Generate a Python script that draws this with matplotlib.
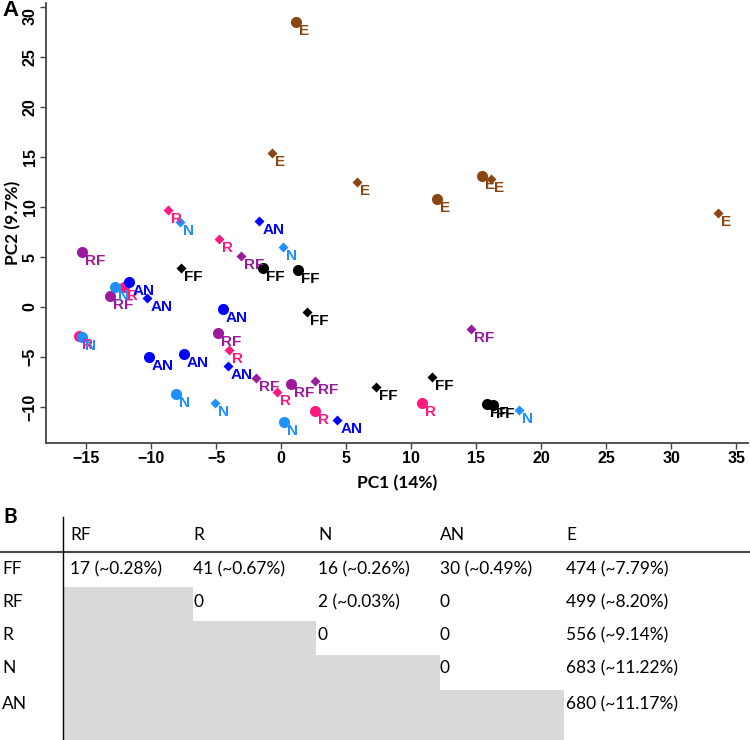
import matplotlib
matplotlib.use('Agg')
import matplotlib.pyplot as plt
from matplotlib.patches import Rectangle

# panel A: PCA scores, one entry per sample
groups = ['FF', 'RF', 'R', 'N', 'AN', 'E']
colors = {'FF': '#000000', 'RF': '#9c1a9c', 'R': '#ff1a80', 'N': '#1e90ff',
          'AN': '#0000ff', 'E': '#8b4513'}

pt_group = ['FF', 'FF', 'FF', 'FF', 'FF', 'FF', 'FF', 'FF',
            'RF', 'RF', 'RF', 'RF', 'RF', 'RF', 'RF', 'RF',
            'R', 'R', 'R', 'R', 'R', 'R', 'R', 'R',
            'N', 'N', 'N', 'N', 'N', 'N', 'N', 'N',
            'AN', 'AN', 'AN', 'AN', 'AN', 'AN', 'AN', 'AN',
            'E', 'E', 'E', 'E', 'E', 'E', 'E']
pt_shape = ['o', 'o', 'o', 'o', 'D', 'D', 'D', 'D',
            'o', 'o', 'o', 'o', 'D', 'D', 'D', 'D',
            'o', 'o', 'o', 'o', 'D', 'D', 'D', 'D',
            'o', 'o', 'o', 'o', 'D', 'D', 'D', 'D',
            'o', 'o', 'o', 'o', 'D', 'D', 'D', 'D',
            'o', 'o', 'o', 'D', 'D', 'D', 'D']
pc1 = [-1.4, 1.3, 15.8, 16.3, -7.7, 2.0, 7.3, 11.6,
       -15.3, -13.2, -4.9, 0.75, -3.1, -1.95, 2.6, 14.6,
       -12.1, -15.6, 2.6, 10.8, -8.7, -4.8, -4.05, -0.3,
       -12.8, -15.3, -8.1, 0.2, -7.8, 0.1, -5.1, 18.3,
       -11.7, -4.5, -10.2, -7.5, -1.7, -10.3, -4.1, 4.3,
       1.15, 15.4, 12.0, -0.7, 5.8, 16.1, 33.6]
pc2 = [3.9, 3.7, -9.7, -9.8, 3.9, -0.5, -8.0, -7.0,
       5.5, 1.1, -2.6, -7.7, 5.1, -7.1, -7.4, -2.2,
       2.0, -2.9, -10.4, -9.6, 9.7, 6.8, -4.3, -8.5,
       2.0, -3.0, -8.7, -11.5, 8.5, 6.0, -9.6, -10.3,
       2.5, -0.2, -5.0, -4.7, 8.6, 0.9, -5.9, -11.3,
       28.5, 13.1, 10.8, 15.4, 12.5, 12.8, 9.4]

# panel B: shared counts between groups (None = shaded cell)
col_labels = ['RF', 'R', 'N', 'AN', 'E']
row_labels = ['FF', 'RF', 'R', 'N', 'AN']
cells = [['17 (~0.28%)', '41 (~0.67%)', '16 (~0.26%)', '30 (~0.49%)', '474 (~7.79%)'],
         [None, '0', '2 (~0.03%)', '0', '499 (~8.20%)'],
         [None, None, '0', '0', '556 (~9.14%)'],
         [None, None, None, '0', '683 (~11.22%)'],
         [None, None, None, None, '680 (~11.17%)']]

W, H = 750, 740
fig = plt.figure(figsize=(W / 100, H / 100), dpi=100)

ax = fig.add_axes([46 / W, 1 - 443 / H, 702 / W, 440 / H])
for g, s, x, y in zip(pt_group, pt_shape, pc1, pc2):
    ax.plot(x, y, marker=s, color=colors[g], ms=8 if s == 'o' else 5.5,
            mec='none', ls='none', zorder=2)
for g, x, y in zip(pt_group, pc1, pc2):
    ax.annotate(g, (x, y), xytext=(3, -9), textcoords='offset pixels',
                ha='left', va='center', color=colors[g], fontsize=11,
                fontweight='bold', family='Liberation Sans', zorder=3)

ax.set_xlim(-18.1, 35.9)
ax.set_ylim(-13.6, 30.4)
ax.set_xticks(range(-15, 36, 5))
ax.set_yticks(range(-10, 31, 5))
for sp in ['top', 'right']:
    ax.spines[sp].set_visible(False)
for sp in ['left', 'bottom']:
    ax.spines[sp].set_color('#444444')
    ax.spines[sp].set_linewidth(1.3)
ax.tick_params(direction='out', length=4, width=1, color='#444444', pad=2)
for lab in ax.get_xticklabels() + ax.get_yticklabels():
    lab.set_fontweight('bold')
    lab.set_fontsize(11.5)
    lab.set_family('Liberation Sans')
ylabs = ax.get_yticklabels()
for lab in ylabs:
    lab.set_rotation(90)
    lab.set_va('center')
ylabs[-1].set_va('top')
ax.set_xlabel('PC1 (14%)', fontsize=12.5, fontweight='bold', family='Lato', labelpad=6)
ax.set_ylabel('PC2 (9.7%)', fontsize=12.5, fontweight='bold', family='Lato', labelpad=1)
fig.text(2 / W, 1 - 10 / H, 'A', fontsize=16, fontweight='bold',
         family='Liberation Sans', va='center', ha='left')

# table
tb = fig.add_axes([0, 0, 1, 1], zorder=-1)
tb.set_xlim(0, W)
tb.set_ylim(H, 0)
tb.axis('off')
col_x = [70, 193, 318, 440, 566]
col_edge = [63, 193, 316, 440, 564]
row_y = [569, 602, 635, 668, 704]
row_top = [553, 587, 621, 655, 690]
for i, row in enumerate(cells):
    for j, val in enumerate(row):
        if val is None:
            tb.add_patch(Rectangle((col_edge[j], row_top[i]),
                                   col_edge[j + 1] - col_edge[j],
                                   H - row_top[i], color='#d9d9d9', lw=0))
        else:
            tb.text(col_x[j], row_y[i], val, fontsize=12.5, family='Lato',
                    va='center', ha='left', color='black')
for j, c in enumerate(col_labels):
    tb.text(col_x[j], 535, c, fontsize=12.5, family='Lato', va='center', ha='left')
for i, r in enumerate(row_labels):
    tb.text(2, row_y[i], r, fontsize=12.5, family='Lato', va='center', ha='left')
tb.plot([0, W], [552, 552], color='#444444', lw=1.5)
tb.plot([63, 63], [517, H], color='black', lw=1)
tb.text(3, 517, 'B', fontsize=15, fontweight='bold', family='Lato', va='center', ha='left')

fig.savefig('out.png', dpi=100)
